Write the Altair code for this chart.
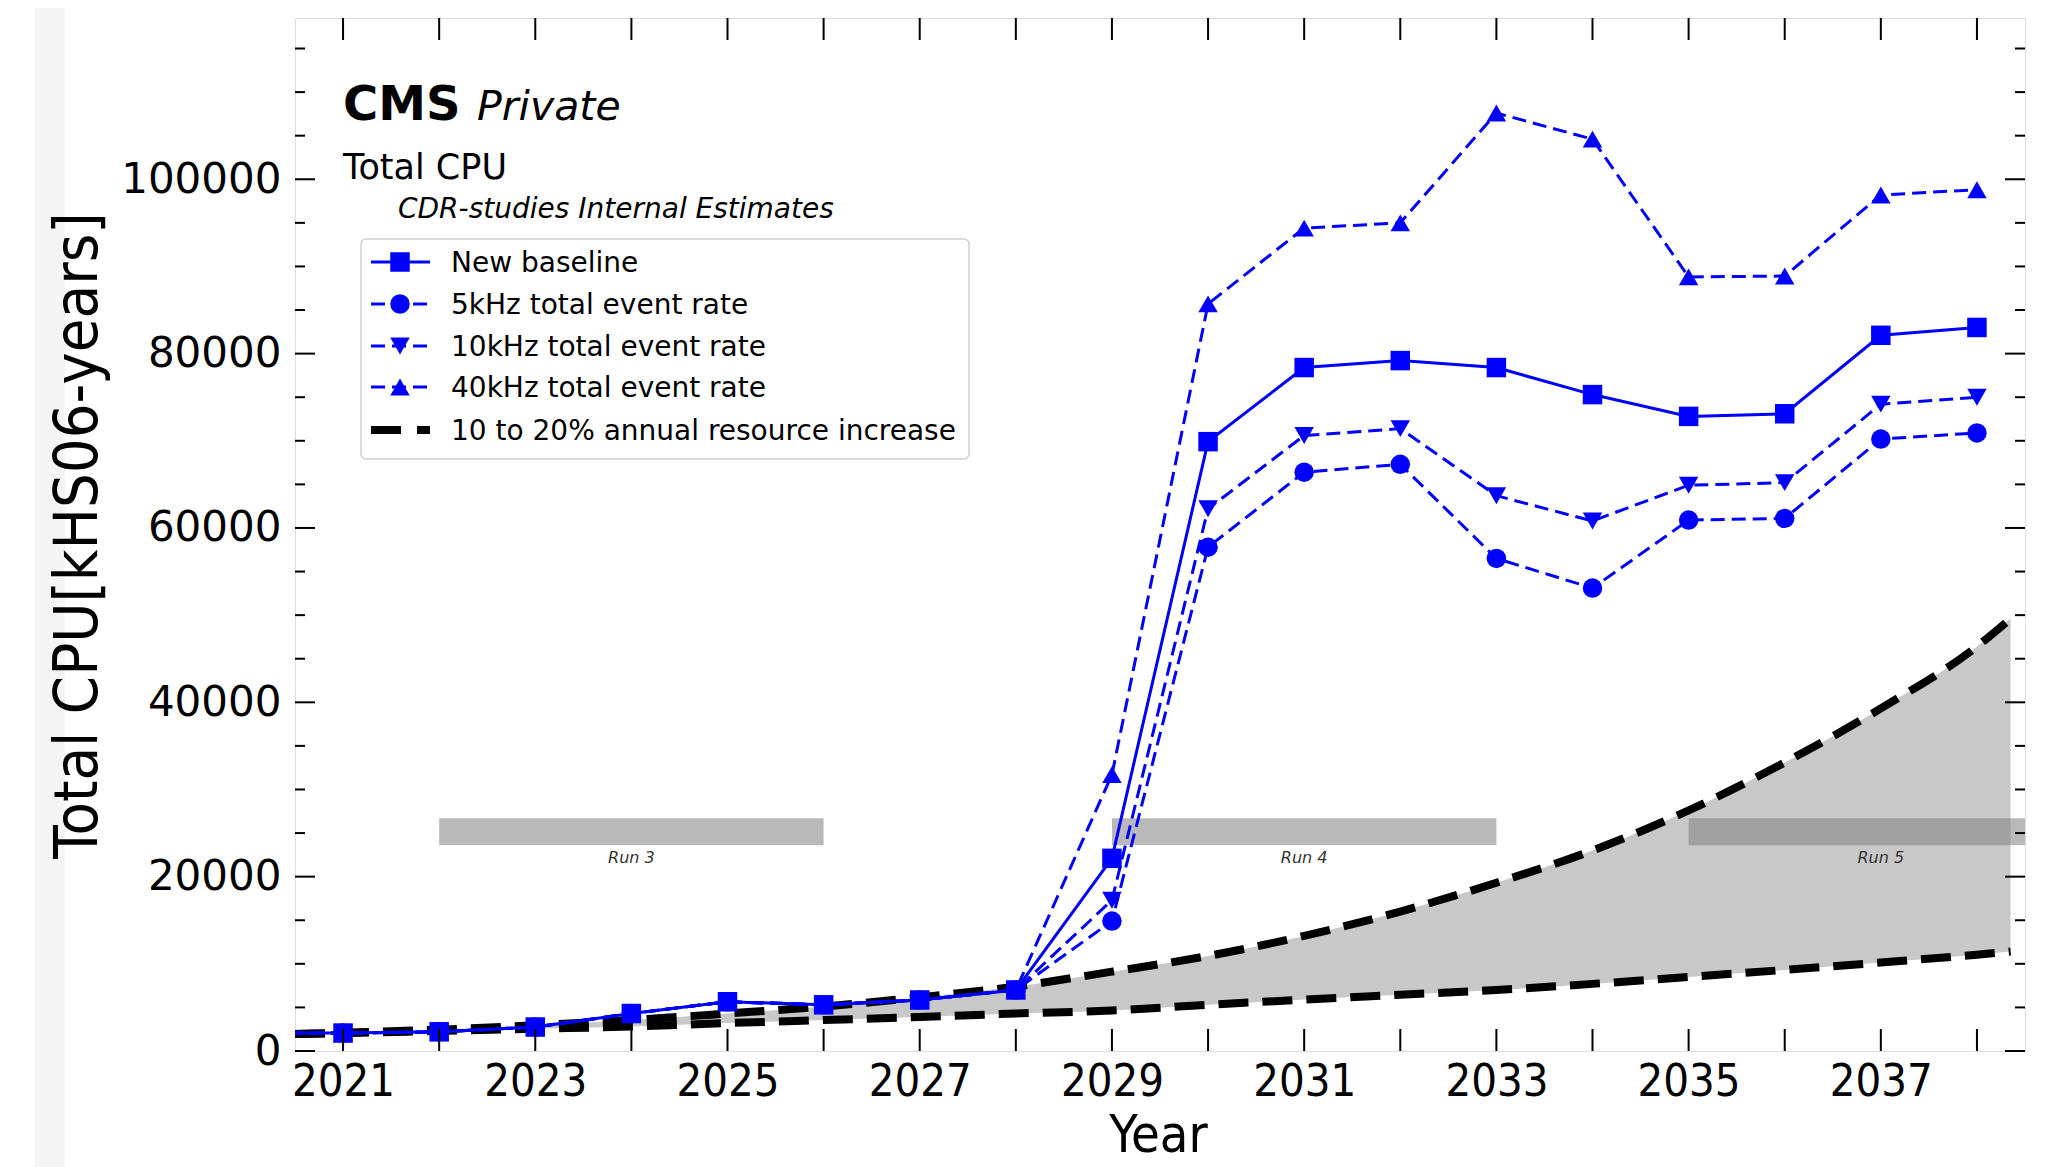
import altair as alt
import pandas as pd

# ---------------- data ----------------
years = list(range(2020, 2039))
early = [2050, 2060, 2200, 2750, 4300, 5650, 5300, 5850, 7000]
baseline = early + [22100, 69900, 78400, 79200, 78400, 75300, 72800, 73100, 82100, 83000]
rate_5khz = early + [14900, 57800, 66400, 67300, 56500, 53100, 60900, 61100, 70200, 70900]
rate_10khz = early + [17300, 62200, 70600, 71400, 63700, 60800, 64900, 65200, 74200, 75000]
rate_40khz = early + [31700, 85700, 94400, 95000, 107600, 104600, 88800, 88900, 98200, 98800]

series_names = ["New baseline", "5kHz total event rate", "10kHz total event rate",
                "40kHz total event rate"]
series_values = [baseline, rate_5khz, rate_10khz, rate_40khz]
band_label = "10 to 20% annual resource increase"

band_years = [2020.5] + list(range(2021, 2039)) + [2038.35]
band_upper = [1950, 2100, 2450, 2950, 3550, 4300, 5100, 6150, 7400, 9100, 10900, 13200,
              16000, 19300, 23000, 27600, 33100, 39300, 46400, 49600]
band_lower = [1950, 2050, 2300, 2550, 2800, 3200, 3550, 3900, 4300, 4650, 5300, 5900,
              6450, 7000, 7700, 8500, 9300, 10150, 11050, 11400]

run_names = ["Run 3", "Run 4", "Run 5"]
run_start = [2022, 2029, 2035]
run_end = [2026, 2033, 2039]
run_low = [23600, 23600, 23600]
run_high = [26700, 26700, 26700]
run_label_y = [22100, 22100, 22100]
run_label_x = [2024, 2031, 2037]

x_tick_labels = [2021, 2023, 2025, 2027, 2029, 2031, 2033, 2035, 2037]
x_ticks = list(range(2021, 2039))
y_tick_labels = [0, 20000, 40000, 60000, 80000, 100000]
y_minor = [v for v in range(5000, 118000, 5000) if v % 20000 != 0]

# ---------------- styling ----------------
W, H = 1730, 1033
BLUE = "#0000ff"
FONT = "DejaVu Sans"
COND = "DejaVu Sans Condensed"
styles = {
    "New baseline": dict(shape="square", dash=None),
    "5kHz total event rate": dict(shape="circle", dash=[14, 7]),
    "10kHz total event rate": dict(shape="triangle-down", dash=[14, 7]),
    "40kHz total event rate": dict(shape="triangle-up", dash=[14, 7]),
}

xscale = alt.Scale(domain=[2020.5, 2038.5], nice=False, zero=False)
yscale = alt.Scale(domain=[0, 118500], nice=False, zero=False)
xaxis = alt.Axis(title="Year", values=x_tick_labels, format="d", ticks=False, domain=False,
                 grid=False, labelFontSize=45, labelFont=COND, labelColor="black",
                 labelPadding=8, labelFlush=False, titleFontSize=52, titleFont=COND,
                 titleFontWeight="normal", titleColor="black", titleX=863, titleY=100,
                 titleAlign="center", titleBaseline="alphabetic", zindex=1)
yaxis = alt.Axis(title="Total CPU[kHS06-years]", values=y_tick_labels, format="d",
                 ticks=False, domain=False, grid=False, labelFontSize=42, labelFont=FONT,
                 labelColor="black", labelPadding=14, labelFlush=False, titleFontSize=61,
                 titleFont=COND, titleFontWeight="normal", titleColor="black",
                 titleAngle=270, titleX=-217, titleY=517, titleAlign="center",
                 titleBaseline="middle", zindex=1)


def X(field):
    return alt.X(field, type="quantitative", scale=xscale, axis=xaxis)


def Y(field):
    return alt.Y(field, type="quantitative", scale=yscale, axis=yaxis)


layers = []

# page strip (left margin artifact)
one = pd.DataFrame({"a": [0]})
layers.append(alt.Chart(one).mark_rect(color="#f4f4f4").encode(
    x=alt.value(-260), x2=alt.value(-230), y=alt.value(-11), y2=alt.value(1149)))

# band
band_df = pd.DataFrame({"year": band_years, "upper": band_upper, "lower": band_lower})
layers.append(alt.Chart(band_df).mark_area(color="#c8c8c8", opacity=1, clip=True,
                                           interpolate="monotone").encode(
    x=X("year"), y=Y("upper"), y2="lower"))

# run bars
runs_df = pd.DataFrame({"name": run_names, "start": run_start, "end": run_end,
                        "low": run_low, "high": run_high, "ly": run_label_y,
                        "lx": run_label_x})
layers.append(alt.Chart(runs_df).mark_rect(color="#808080", opacity=0.55, clip=True).encode(
    x=X("start"), x2="end", y=Y("low"), y2="high"))
layers.append(alt.Chart(runs_df).mark_text(font=FONT, fontStyle="italic", fontSize=16,
                                           color="#333333", baseline="middle").encode(
    x=X("lx"), y=Y("ly"), text="name"))

# band dashed boundary lines
for col in ["upper", "lower"]:
    layers.append(alt.Chart(band_df).mark_line(color="black", strokeWidth=8,
                                               strokeDash=[30, 14], clip=True,
                                               interpolate="monotone").encode(
        x=X("year"), y=Y(col)))

# series
for name, vals in zip(series_names, series_values):
    df = pd.DataFrame({"year": years, "value": vals})
    st = styles[name]
    line_kw = dict(color=BLUE, strokeWidth=3, clip=True)
    if st["dash"]:
        line_kw["strokeDash"] = st["dash"]
    layers.append(alt.Chart(df).mark_line(**line_kw).encode(x=X("year"), y=Y("value")))
    layers.append(alt.Chart(df).mark_point(shape=st["shape"], filled=True, size=380,
                                           color=BLUE, opacity=1, clip=True).encode(
        x=X("year"), y=Y("value")))

# ticks (inward)
xt = pd.DataFrame({"t": x_ticks})
for y0, y1 in [(H, H - 22), (0, 22)]:
    layers.append(alt.Chart(xt).mark_rule(color="black", strokeWidth=2).encode(
        x=X("t"), y=alt.value(y0), y2=alt.value(y1)))
ytm = pd.DataFrame({"t": y_tick_labels})
ytn = pd.DataFrame({"t": y_minor})
for df_t, ln in [(ytm, 20), (ytn, 10)]:
    for x0, x1 in [(0, ln), (W, W - ln)]:
        layers.append(alt.Chart(df_t).mark_rule(color="black", strokeWidth=2).encode(
            y=Y("t"), x=alt.value(x0), x2=alt.value(x1)))


# header texts
def txt(s, x, y, size, weight="normal", style="normal", font=FONT):
    return alt.Chart(pd.DataFrame({"s": [s]})).mark_text(
        align="left", baseline="alphabetic", fontSize=size, fontWeight=weight,
        fontStyle=style, font=font, color="black").encode(
        x=alt.value(x), y=alt.value(y), text="s:N")


layers.append(txt("CMS", 48, 102, 48, weight="bold"))
layers.append(txt("Private", 182, 102, 41, style="italic"))
layers.append(txt("Total CPU", 48, 161, 35))
layers.append(txt("CDR-studies Internal Estimates", 103, 200, 28, style="italic"))

# legend
layers.append(alt.Chart(one).mark_rect(fill="white", stroke="#cccccc", strokeWidth=1.5,
                                       cornerRadius=5, opacity=0.9).encode(
    x=alt.value(66), x2=alt.value(674), y=alt.value(221), y2=alt.value(441)))
leg_y = [244, 286, 328, 369, 412]
for i, name in enumerate(series_names):
    st = styles[name]
    kw = dict(color=BLUE, strokeWidth=3)
    if st["dash"]:
        kw["strokeDash"] = st["dash"]
    layers.append(alt.Chart(one).mark_rule(**kw).encode(
        x=alt.value(76), x2=alt.value(135), y=alt.value(leg_y[i])))
    layers.append(alt.Chart(one).mark_point(shape=st["shape"], filled=True, size=380,
                                            color=BLUE, opacity=1).encode(
        x=alt.value(105), y=alt.value(leg_y[i])))
    layers.append(txt(name, 156, leg_y[i] + 10, 28))
layers.append(alt.Chart(one).mark_rule(color="black", strokeWidth=8,
                                       strokeDash=[30, 16]).encode(
    x=alt.value(76), x2=alt.value(135), y=alt.value(leg_y[4])))
layers.append(txt(band_label, 156, leg_y[4] + 10, 28))

chart = alt.layer(*layers).properties(
    width=W, height=H,
    autosize=alt.AutoSizeParams(type="none"),
    padding={"left": 287, "top": 10, "right": 12, "bottom": 116},
).configure_view(stroke="black", strokeWidth=2.5).configure(background="white")

chart.save("out.html", embed_options={"renderer": "svg", "actions": False})
